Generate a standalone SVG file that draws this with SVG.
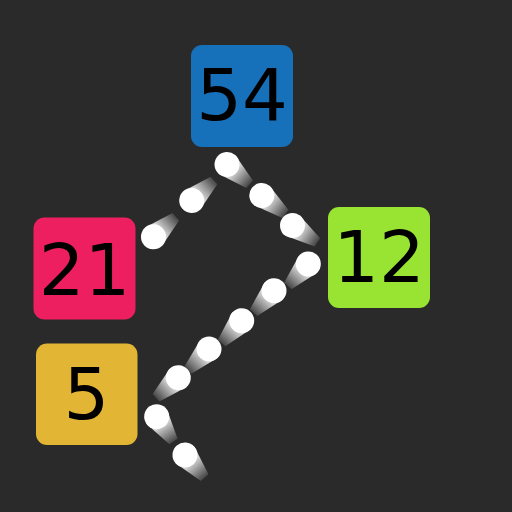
<svg xmlns="http://www.w3.org/2000/svg" xmlns:xlink="http://www.w3.org/1999/xlink" width="512" height="512" viewBox="0 0 512 512">
  <style>
    .lbl { font-family: "DejaVu Sans", "Liberation Sans", sans-serif; font-size: 72px; fill: #000; text-anchor: middle; }
  </style>
  <defs>
    <linearGradient id="tr" gradientUnits="userSpaceOnUse" x1="10" y1="0" x2="31" y2="0">
      <stop offset="0" stop-color="#fff" stop-opacity="0.8"/>
      <stop offset="1" stop-color="#fff" stop-opacity="0.1"/>
    </linearGradient>
    <g id="dot">
      <polygon points="0,-12.5 30,-5 30,5 0,12.5" fill="url(#tr)"/>
      <circle r="12.5" fill="#fff"/>
    </g>
  </defs>
  <rect width="512" height="512" fill="#2a2a2a"/>
  <g id="connectors">
    <use xlink:href="#dot" href="#dot" transform="translate(191.7,200.5) rotate(-42)"/>
    <use xlink:href="#dot" href="#dot" transform="translate(153.5,236.8) rotate(-42)"/>
    <use xlink:href="#dot" href="#dot" transform="translate(227,164.5) rotate(41)"/>
    <use xlink:href="#dot" href="#dot" transform="translate(261.8,195.5) rotate(38)"/>
    <use xlink:href="#dot" href="#dot" transform="translate(292.5,225.5) rotate(34)"/>
    <use xlink:href="#dot" href="#dot" transform="translate(308.3,264) rotate(133)"/>
    <use xlink:href="#dot" href="#dot" transform="translate(274,290.7) rotate(133)"/>
    <use xlink:href="#dot" href="#dot" transform="translate(241.7,320.7) rotate(132)"/>
    <use xlink:href="#dot" href="#dot" transform="translate(209,349) rotate(135)"/>
    <use xlink:href="#dot" href="#dot" transform="translate(178.3,377.7) rotate(138)"/>
    <use xlink:href="#dot" href="#dot" transform="translate(156.7,416.7) rotate(56)"/>
    <use xlink:href="#dot" href="#dot" transform="translate(185,455) rotate(49)"/>
  </g>
  <g id="node-54">
    <rect x="191" y="45" width="102" height="102" rx="11" fill="#1771ba"/>
    <text class="lbl" x="242" y="119.5">54</text>
  </g>
  <g id="node-21">
    <rect x="33.5" y="217.5" width="102" height="102" rx="11" fill="#ee1f60"/>
    <text class="lbl" x="84.5" y="295">21</text>
  </g>
  <g id="node-12">
    <rect x="328" y="207" width="102" height="101" rx="11" fill="#99e432"/>
    <text class="lbl" x="379" y="282">12</text>
  </g>
  <g id="node-5">
    <rect x="36" y="343.5" width="101.5" height="101.5" rx="11" fill="#e2b634"/>
    <text class="lbl" x="86.5" y="419">5</text>
  </g>
</svg>
